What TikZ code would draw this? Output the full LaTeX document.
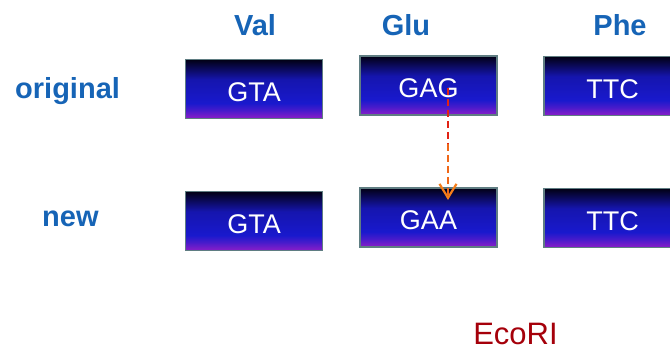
\documentclass[tikz,border=0pt]{standalone}
\usepackage{fontspec}
\setmainfont{Liberation Sans}
\usetikzlibrary{arrows.meta,calc}
\definecolor{lblblue}{RGB}{22,100,182}
\definecolor{boxedge}{RGB}{95,125,130}
\definecolor{boxtop}{RGB}{2,0,20}
\definecolor{boxmid}{RGB}{25,25,205}
\definecolor{boxbot}{RGB}{140,30,200}
\definecolor{ecored}{RGB}{165,0,10}
\definecolor{arrred}{RGB}{225,35,20}
\definecolor{arrorange}{RGB}{245,125,25}
\pgfdeclareverticalshading{codonshade}{100bp}{color(0bp)=(boxbot); color(25bp)=(boxbot); color(32bp)=(boxmid!60!boxbot); color(38bp)=(boxmid); color(58bp)=(boxmid!85!black); color(75bp)=(boxtop); color(100bp)=(boxtop)}
\begin{document}
\begin{tikzpicture}[x=1pt,y=-1pt,
  codon/.style={draw=boxedge,line width=1.8pt,minimum width=137pt,minimum height=59pt,
    inner sep=0pt,shading=codonshade,text=white,font=\fontsize{27}{30}\selectfont,
    text height=25pt,text depth=0pt},
  aalbl/.style={text=lblblue,font=\bfseries\fontsize{29}{32}\selectfont,anchor=base,inner sep=0pt},
  rowlbl/.style={text=lblblue,font=\bfseries\fontsize{29}{32}\selectfont,anchor=base west,inner sep=0pt},
  dsh/.style={line width=2.2pt,dash pattern=on 7pt off 4pt}]
\useasboundingbox (0,0) rectangle (670,352);
\begin{scope}
\clip (0,0) rectangle (670,352);
\node[aalbl] (val) at (255,36) {Val};
\node[aalbl] (glu) at (406,36) {Glu};
\node[aalbl] (phe) at (620,36) {Phe};
\node[rowlbl] (orig) at (15,99) {original};
\node[rowlbl] (new) at (42,227) {new};
\node[codon] (gta1) at (254,89) {GTA};
\node[codon] (gag) at (428.5,85.5) {GAG};
\node[codon] (ttc1) at (612.5,86) {TTC};
\node[codon] (gta2) at (254,221) {GTA};
\node[codon] (gaa) at (428.5,217.5) {GAA};
\node[codon] (ttc2) at (612.5,218) {TTC};
\node[text=ecored,font=\fontsize{31}{34}\selectfont,anchor=base,inner sep=0pt] (eco) at (515.5,345) {EcoRI};
\coordinate (astart) at (448,88);
\coordinate (aend) at (448,200);
\coordinate (amid) at ($(astart)!0.5!(aend)$);
\draw[arrred,dsh] (astart) -- (amid);
\draw[arrorange!75!arrred,dsh,
  -{Straight Barb[length=14pt,width=17pt,line width=2.2pt,color=arrorange]}] (amid) -- (aend);
\end{scope}
\end{tikzpicture}
\end{document}
